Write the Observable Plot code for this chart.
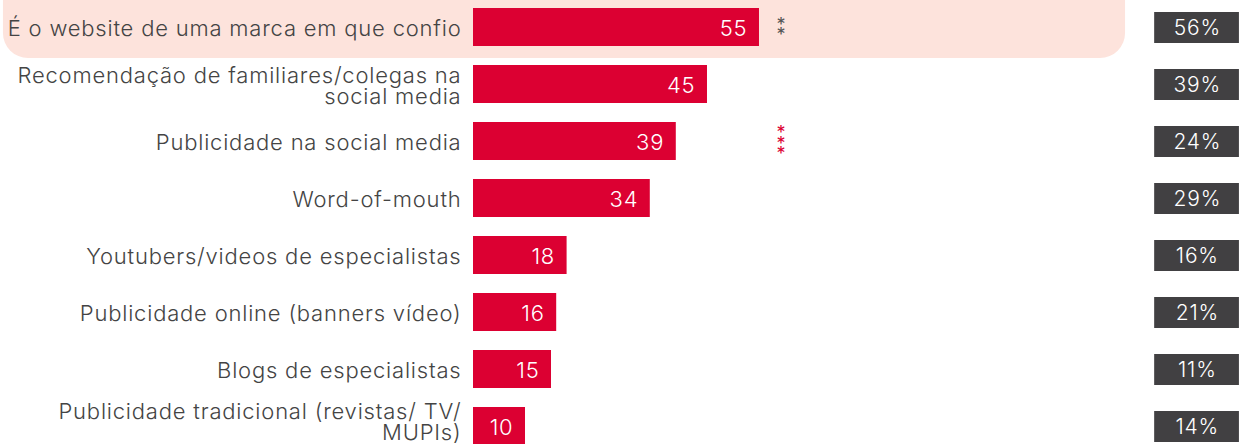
<!DOCTYPE html>
<html>
<head>
<meta charset="utf-8">
<script src="https://cdn.jsdelivr.net/npm/d3@7"></script>
<script src="https://cdn.jsdelivr.net/npm/@observablehq/plot@0.6"></script>
<style>
  html, body { margin: 0; padding: 0; background: #fff; }
  svg { display: block; }
  svg text { letter-spacing: 0.8px; }
</style>
</head>
<body>
<div id="chart"></div>
<script>
const categories = [
  "É o website de uma marca em que confio",
  "Recomendação de familiares/colegas na\nsocial media",
  "Publicidade na social media",
  "Word-of-mouth",
  "Youtubers/videos de especialistas",
  "Publicidade online (banners vídeo)",
  "Blogs de especialistas",
  "Publicidade tradicional (revistas/ TV/\nMUPIs)"
];
const values = [55, 45, 39, 34, 18, 16, 15, 10];
const comparison = ["56%", "39%", "24%", "29%", "16%", "21%", "11%", "14%"];
const significance = ["**", "", "***", "", "", "", "", ""];
const sigColors = ["#555555", "#dc0032", "#dc0032", "#dc0032", "#dc0032", "#dc0032", "#dc0032", "#dc0032"];

const data = categories.map((c, i) => ({
  cat: c, value: values[i], comp: comparison[i],
  sig: significance[i].split("").join("\n"), sigColor: sigColors[i]
}));

const FONT = "Inter";
const RED = "#dc0032";
const DARK = "#414042";
const last = categories[categories.length - 1];

const chart = Plot.plot({
  width: 1241,
  height: 444,
  marginLeft: 473,
  marginRight: 0,
  marginTop: 0,
  marginBottom: 0,
  style: { fontFamily: FONT, background: "white", overflow: "hidden" },
  x: { domain: [0, 147.7], axis: null },
  y: { domain: categories, range: [-3.75, 456.25], paddingInner: 0.34, paddingOuter: 0.17, axis: null },
  marks: [
    // highlight band behind the first row
    Plot.rect([data[0]], {
      y: "cat", x1: -90.4, x2: 125.4,
      insetTop: -50, insetBottom: -12,
      rx: 25, fill: "#fde3dc"
    }),
    Plot.barX(data, { y: "cat", x: "value", fill: RED }),
    Plot.text(data, {
      y: "cat", x: "value", text: d => String(d.value),
      textAnchor: "end", dx: -12, dy: 1, fill: "white",
      fontSize: 22, fontWeight: 300
    }),
    Plot.text(data, {
      y: "cat", x: 59.2, text: "sig", fill: "sigColor",
      fontSize: 18, lineHeight: 0.58, dy: 5, fontWeight: 400
    }),
    // category labels
    Plot.text(data.filter(d => d.cat !== last), {
      y: "cat", frameAnchor: "left", text: "cat",
      textAnchor: "end", dx: -12, dy: 2, fill: "#444444",
      fontSize: 22, fontWeight: 300, lineHeight: 0.98
    }),
    Plot.text(data.filter(d => d.cat === last), {
      y: "cat", frameAnchor: "left", text: "cat",
      textAnchor: "end", dx: -12, dy: -4, fill: "#444444",
      fontSize: 22, fontWeight: 300, lineHeight: 0.98
    }),
    // comparison boxes
    Plot.rect(data, {
      y: "cat", x1: 131, x2: 147.3, insetTop: 4, insetBottom: 3, fill: DARK
    }),
    Plot.text(data, {
      y: "cat", x: 139.2, text: "comp", fill: "white",
      fontSize: 21, fontWeight: 300, dy: 1
    })
  ]
});

document.getElementById("chart").appendChild(chart);
</script>
</body>
</html>
